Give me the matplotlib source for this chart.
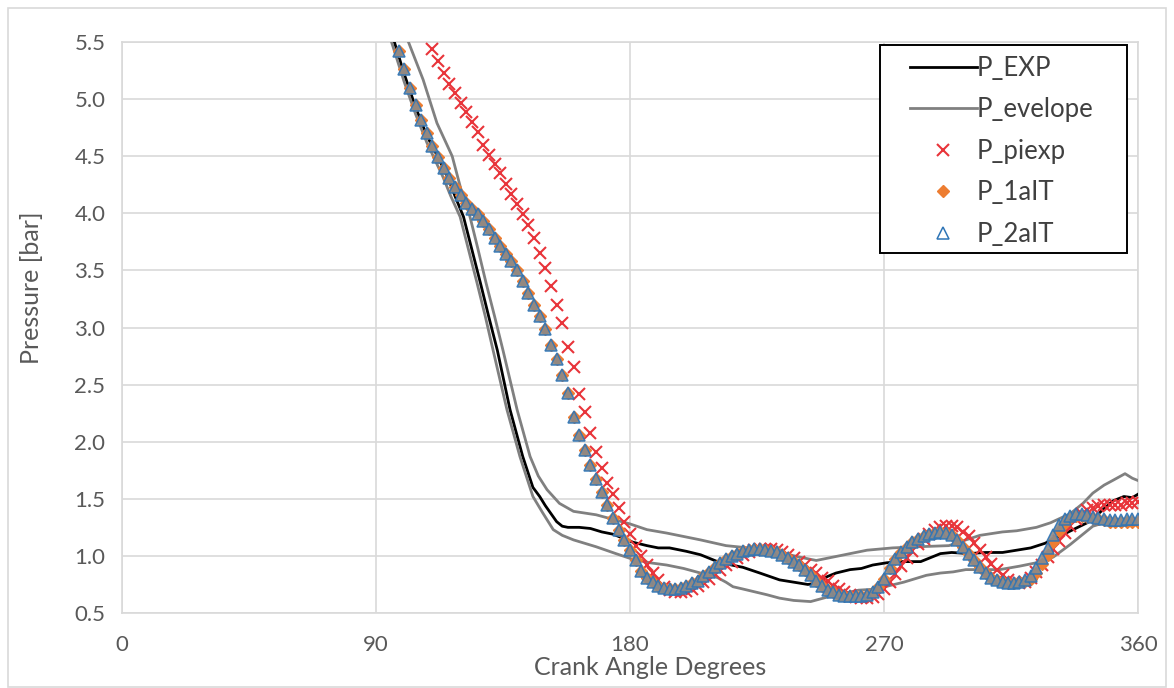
import numpy as np
from matplotlib import pyplot as plt
from matplotlib.patches import Rectangle

plt.rcParams['font.family'] = ['Lato', 'DejaVu Sans']

# measured pressure (black line), crank angle / bar
exp_deg = [96.5, 100, 104, 108, 112, 115.5, 118, 121, 124, 127, 130, 133, 137.5, 142, 145.6, 148, 150, 152, 154, 156,
           158, 162, 166, 170, 174, 178, 181, 186, 190, 194, 200, 205, 211, 216, 220, 226, 233, 238, 243, 246,
           250, 253, 258, 262, 266, 271, 276, 279, 283, 287, 290, 294, 300, 306, 312, 317, 322, 327, 332, 337,
           342, 346, 351, 355, 358, 360]
exp_p = [5.50, 5.22, 4.93, 4.68, 4.49, 4.31, 4.15, 3.97, 3.68, 3.39, 3.09, 2.80, 2.28, 1.87, 1.60, 1.52, 1.44, 1.37, 1.30, 1.26,
         1.25, 1.25, 1.24, 1.21, 1.19, 1.15, 1.12, 1.09, 1.07, 1.07, 1.04, 1.01, 0.95, 0.92, 0.90, 0.85, 0.79, 0.77, 0.75, 0.76,
         0.82, 0.85, 0.88, 0.89, 0.92, 0.94, 0.95, 0.95, 0.95, 0.99, 1.02, 1.03, 1.02, 1.03, 1.03, 1.05, 1.07, 1.11, 1.17, 1.23,
         1.29, 1.37, 1.48, 1.52, 1.51, 1.54]

# envelope - upper
env_hi_deg = [101.5, 106.7, 111.6, 117, 120, 123, 126, 129, 132, 135, 140, 144.6, 147.5, 150.6, 155, 160, 168, 174, 180, 186,
              193, 205, 214, 222, 233, 240, 246, 252, 258, 264, 273, 282, 293, 299, 304, 312, 317, 324, 329, 336,
              340.5, 344, 348, 351, 355.4, 358, 360]
env_hi_p = [5.50, 5.17, 4.79, 4.50, 4.22, 4.00, 3.70, 3.39, 3.10, 2.80, 2.28, 1.87, 1.70, 1.58, 1.46, 1.39, 1.36, 1.32, 1.28, 1.23,
            1.20, 1.14, 1.09, 1.07, 1.03, 0.99, 0.96, 0.99, 1.02, 1.05, 1.07, 1.08, 1.09, 1.14, 1.18, 1.21, 1.22, 1.25, 1.29, 1.37,
            1.46, 1.55, 1.62, 1.66, 1.72, 1.68, 1.66]

# envelope - lower
env_lo_deg = [95.5, 100, 104, 108, 113.7, 116.5, 119.8, 122.8, 125.8, 128.7, 131.5, 136.4, 141, 145.6, 149, 152.8, 156, 160, 168, 175,
              181, 187, 193, 199, 208, 211, 214, 216.5, 220, 228.5, 233, 238, 244, 250, 255.5, 261, 267.5, 272, 277, 285,
              290, 294.5, 299, 303, 311, 318, 324, 330, 336, 340, 344, 348, 353.6, 360]
env_lo_p = [5.50, 5.15, 4.87, 4.62, 4.32, 4.15, 3.97, 3.68, 3.39, 3.10, 2.80, 2.28, 1.87, 1.52, 1.38, 1.23, 1.18, 1.14, 1.08, 1.02,
            0.97, 0.94, 0.92, 0.89, 0.83, 0.81, 0.77, 0.73, 0.71, 0.66, 0.63, 0.61, 0.60, 0.64, 0.67, 0.70, 0.71, 0.74, 0.77, 0.83,
            0.85, 0.86, 0.88, 0.88, 0.88, 0.91, 0.94, 0.99, 1.10, 1.18, 1.26, 1.29, 1.31, 1.30]

# P_piexp, every 2 deg from 110
piexp_deg = np.arange(110, 361, 2)
piexp_p = [5.44, 5.33, 5.23, 5.13, 5.05, 4.97, 4.89, 4.80, 4.71, 4.60, 4.51, 4.43, 4.35, 4.26, 4.17, 4.08, 3.99, 3.90, 3.78, 3.65,
           3.52, 3.36, 3.20, 3.04, 2.83, 2.65, 2.42, 2.26, 2.08, 1.91, 1.77, 1.64, 1.54, 1.42, 1.30, 1.19, 1.09, 1.00, 0.92, 0.85,
           0.79, 0.73, 0.70, 0.68, 0.68, 0.69, 0.71, 0.74, 0.77, 0.80, 0.84, 0.88, 0.92, 0.95, 0.98, 1.01, 1.03, 1.05, 1.06, 1.06,
           1.06, 1.05, 1.03, 1.01, 0.98, 0.95, 0.92, 0.88, 0.85, 0.81, 0.78, 0.74, 0.71, 0.68, 0.66, 0.64, 0.63, 0.63, 0.64, 0.67,
           0.71, 0.77, 0.84, 0.91, 0.98, 1.04, 1.10, 1.15, 1.19, 1.23, 1.25, 1.26, 1.26, 1.25, 1.21, 1.17, 1.11, 1.05, 0.99, 0.93,
           0.88, 0.83, 0.79, 0.77, 0.76, 0.77, 0.81, 0.86, 0.92, 0.99, 1.06, 1.13, 1.20, 1.26, 1.32, 1.37, 1.40, 1.42, 1.44, 1.45,
           1.45, 1.45, 1.45, 1.46, 1.46, 1.47]

# P_1aIT and P_2aIT, every 2 deg from 98
ait_deg = np.arange(98, 361, 2)
p2ait = [5.42, 5.26, 5.10, 4.95, 4.82, 4.70, 4.59, 4.49, 4.40, 4.31, 4.23, 4.16, 4.09, 4.04, 3.99, 3.93, 3.86, 3.78, 3.71, 3.64,
         3.58, 3.50, 3.41, 3.30, 3.20, 3.10, 2.99, 2.85, 2.72, 2.58, 2.43, 2.22, 2.06, 1.93, 1.80, 1.67, 1.56, 1.45, 1.33, 1.23,
         1.14, 1.05, 0.96, 0.87, 0.81, 0.77, 0.74, 0.72, 0.71, 0.71, 0.72, 0.74, 0.76, 0.78, 0.82, 0.86, 0.90, 0.94, 0.97, 1.00,
         1.02, 1.04, 1.05, 1.06, 1.06, 1.05, 1.04, 1.03, 1.01, 0.98, 0.95, 0.92, 0.88, 0.83, 0.78, 0.74, 0.70, 0.68, 0.66, 0.65,
         0.65, 0.65, 0.65, 0.66, 0.68, 0.73, 0.80, 0.89, 0.97, 1.03, 1.08, 1.12, 1.15, 1.17, 1.19, 1.20, 1.21, 1.20, 1.18, 1.14,
         1.08, 1.02, 0.96, 0.90, 0.85, 0.81, 0.79, 0.77, 0.76, 0.76, 0.77, 0.79, 0.82, 0.89, 0.98, 1.07, 1.18, 1.27, 1.32, 1.35,
         1.37, 1.37, 1.36, 1.34, 1.33, 1.32, 1.31, 1.31, 1.31, 1.32, 1.32, 1.32]
p1ait = [5.42, 5.26, 5.10, 4.95, 4.82, 4.70, 4.59, 4.49, 4.40, 4.31, 4.23, 4.16, 4.09, 4.04, 3.99, 3.93, 3.86, 3.78, 3.71, 3.64,
         3.58, 3.50, 3.41, 3.30, 3.20, 3.10, 2.99, 2.85, 2.72, 2.58, 2.43, 2.22, 2.06, 1.93, 1.80, 1.67, 1.56, 1.45, 1.33, 1.23,
         1.14, 1.05, 0.96, 0.87, 0.81, 0.77, 0.74, 0.72, 0.71, 0.71, 0.72, 0.74, 0.76, 0.78, 0.82, 0.86, 0.90, 0.94, 0.97, 1.00,
         1.02, 1.04, 1.05, 1.06, 1.06, 1.05, 1.04, 1.03, 1.01, 0.98, 0.95, 0.92, 0.88, 0.83, 0.78, 0.74, 0.70, 0.68, 0.66, 0.65,
         0.65, 0.65, 0.65, 0.66, 0.68, 0.73, 0.80, 0.89, 0.97, 1.03, 1.08, 1.12, 1.15, 1.17, 1.19, 1.20, 1.21, 1.20, 1.18, 1.14,
         1.08, 1.02, 0.96, 0.90, 0.85, 0.81, 0.79, 0.77, 0.76, 0.76, 0.77, 0.78, 0.80, 0.85, 0.93, 1.01, 1.12, 1.22, 1.29, 1.33,
         1.35, 1.35, 1.34, 1.33, 1.32, 1.31, 1.30, 1.30, 1.30, 1.30, 1.30, 1.30]

x_ticks = [0, 90, 180, 270, 360]
y_ticks = [0.5, 1.0, 1.5, 2.0, 2.5, 3.0, 3.5, 4.0, 4.5, 5.0, 5.5]

txt_col = '#595959'
grid_col = '#d9d9d9'

fig = plt.figure(figsize=(11.74, 6.88), dpi=100)
ax = fig.add_axes([122/1174, 1-613/688, (1138-122)/1174, (613-42)/688])

# outer chart border
fig.patches.append(Rectangle((8/1174, 0.002), 1158/1174, 1-0.002-8/688, transform=fig.transFigure,
                             fill=False, edgecolor=grid_col, linewidth=1.2))

ax.plot(exp_deg, exp_p, color='black', lw=2.0, label='P_EXP', zorder=3)
ax.plot(env_hi_deg, env_hi_p, color='#808080', lw=2.0, label='P_evelope', zorder=3)
ax.plot(env_lo_deg, env_lo_p, color='#808080', lw=2.0, zorder=3)
ax.plot(piexp_deg, piexp_p, ls='none', marker='x', ms=8.5, mew=1.5, color='#e8343a', label='P_piexp', zorder=4)
ax.plot(ait_deg, p1ait, ls='none', marker='D', ms=6, color='#ed7d31', mec='#ed7d31', label='P_1aIT', zorder=5)
ax.plot(ait_deg, p2ait, ls='none', marker='^', ms=8.5, mfc='#8a8a8a', mec='#2e75b6', mew=1.1, alpha=0.9,
        label='P_2aIT', zorder=6)

ax.set_xlim(0, 360)
ax.set_ylim(0.5, 5.5)
ax.set_xticks(x_ticks)
ax.set_yticks(y_ticks)
ax.set_yticklabels(['%.1f' % v for v in y_ticks])
ax.grid(True, color=grid_col, lw=1.2)
ax.set_axisbelow(True)
for s in ax.spines.values():
    s.set_color(grid_col)
    s.set_linewidth(1.2)
ax.tick_params(length=0, labelsize=16, colors=txt_col)
ax.tick_params(axis='x', pad=16)
ax.tick_params(axis='y', pad=12)
ax.set_xlabel('Crank Angle Degrees', fontsize=18, color=txt_col, labelpad=1)
ax.xaxis.set_label_coords((650-122)/1016, -0.075)
ax.set_ylabel('Pressure [bar]', fontsize=18, color=txt_col)
ax.yaxis.set_label_coords(-0.078, 0.57)

# legend: no own frame, box drawn separately (wider side padding like excel)
leg = ax.legend(loc='upper left', bbox_to_anchor=((910-122)/1016, (613-56)/571), borderaxespad=0, borderpad=0,
                fontsize=18.5, handlelength=2.6, handletextpad=0.0, labelspacing=0.64,
                frameon=False, numpoints=1)
for t in leg.get_texts():
    t.set_color('#404040')
leg.legend_handles[4].set_markerfacecolor('white')
leg.legend_handles[4].set_alpha(1)
ax.add_patch(Rectangle(((880-122)/1016, (613-253)/571), (1127-880)/1016, (253-45)/571, transform=ax.transAxes,
                       fill=True, facecolor='white', edgecolor='black', linewidth=1.4, zorder=7))
leg.set_zorder(8)

fig.savefig('out.png', dpi=100)
